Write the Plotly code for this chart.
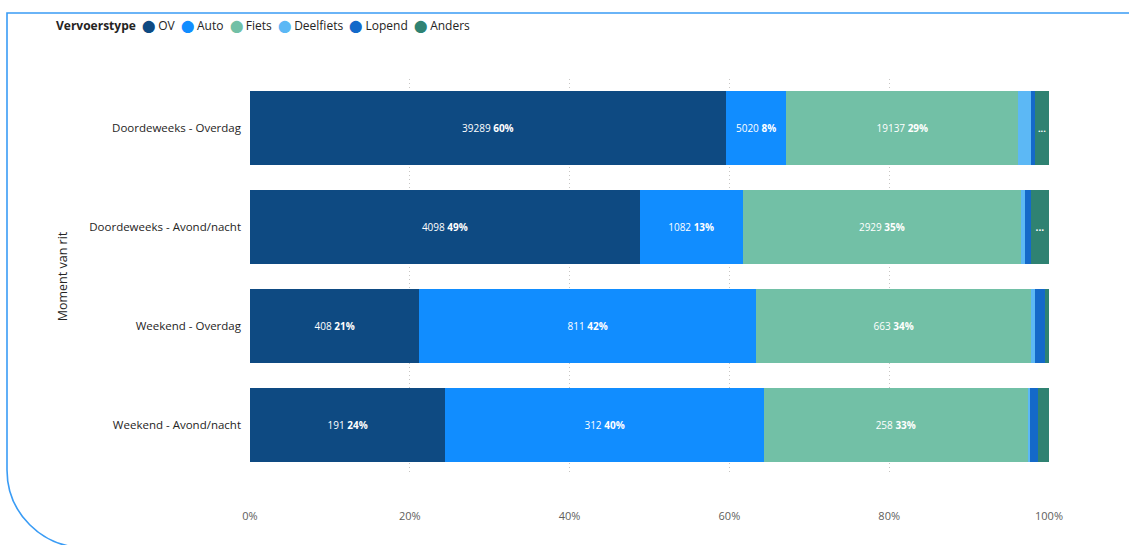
import plotly.graph_objects as go

# Trips per moment of the day, split by mode of transport
categories = [
    "Doordeweeks - Overdag",
    "Doordeweeks - Avond/nacht",
    "Weekend - Overdag",
    "Weekend - Avond/nacht",
]
modes = ["OV", "Auto", "Fiets", "Deelfiets", "Lopend", "Anders"]

ov = [39289, 4098, 408, 191]
auto = [5020, 1082, 811, 312]
fiets = [19137, 2929, 663, 258]
deelfiets = [1060, 40, 10, 2]
lopend = [330, 63, 24, 8]
anders = [1160, 190, 9, 11]

x_ticks = [0, 20, 40, 60, 80, 100]

colors = ["#0E4A82", "#118DFF", "#72C0A6", "#5CB8F5", "#1469C9", "#2F8272"]
series = [ov, auto, fiets, deelfiets, lopend, anders]

FONT = "Open Sans"
NB = "\u00a0"
totals = [sum(vals) for vals in zip(*series)]

fig = go.Figure()
for name, vals, col in zip(modes, series, colors):
    labels = []
    for v, t in zip(vals, totals):
        share = v / t
        if share >= 0.05:
            labels.append(f"{v} <b>{round(share * 100)}%</b>")
        elif share >= 0.017:
            labels.append("<b>...</b>")
        else:
            labels.append("")
    fig.add_trace(go.Bar(
        name=name,
        y=categories,
        x=vals,
        orientation="h",
        marker=dict(color=col, line=dict(width=0)),
        text=labels,
        textposition="inside",
        insidetextanchor="middle",
        textangle=0,
        textfont=dict(family=FONT, size=10, color="white"),
        showlegend=False,
    ))

fig.update_layout(
    barmode="stack",
    barnorm="percent",
    bargap=0.25,
    width=1129,
    height=545,
    margin=dict(l=250, r=80, t=79, b=71),
    paper_bgcolor="white",
    plot_bgcolor="white",
    font=dict(family=FONT, size=12, color="#252423"),
    showlegend=False,
)

fig.update_xaxes(
    range=[0, 100],
    tickvals=x_ticks,
    ticktext=[f"{t}%" for t in x_ticks],
    showgrid=True,
    gridcolor="#C8C6C4",
    griddash="1px,3px",
    gridwidth=1,
    zeroline=False,
    showline=False,
    ticks="",
    tickfont=dict(family=FONT, size=11, color="#605E5C"),
    ticklabelstandoff=34,
)
fig.update_yaxes(
    categoryorder="array",
    categoryarray=categories,
    autorange="reversed",
    showgrid=False,
    zeroline=False,
    showline=False,
    ticks="",
    ticklabelstandoff=8,
    tickfont=dict(family=FONT, size=11.5, color="#252423"),
    title=dict(text="Moment van rit", font=dict(family=FONT, size=12.5, color="#252423"), standoff=18),
)

# Legend line: title followed by a coloured dot per mode
legend_text = "<b>Vervoerstype</b>" + NB * 2 + (NB * 2).join(
    f"<span style='color:{col}'>⬤</span>{NB}{name}" for name, col in zip(modes, colors)
)
fig.add_annotation(
    xref="paper", yref="paper",
    x=-(250 - 54) / 799, y=1 + (79 - 26) / 395,
    xanchor="left", yanchor="middle",
    text=legend_text,
    showarrow=False,
    font=dict(family=FONT, size=12, color="#252423"),
)

# Card outline: top edge and left edge with rounded lower corner
def px(xp):
    return (xp - 250) / 799

def py(yp):
    return (474 - yp) / 395

r = 77.5
k = 0.5523 * r
x0, y0 = 7, 13
yc = 470
path = (
    f"M {px(1140)} {py(y0)} L {px(x0)} {py(y0)} L {px(x0)} {py(yc)} "
    f"C {px(x0)} {py(yc + k)} {px(x0 + r - k)} {py(yc + r)} {px(x0 + r)} {py(yc + r)} "
    f"L {px(400)} {py(yc + r)}"
)
fig.add_shape(
    type="path", xref="paper", yref="paper", path=path,
    line=dict(color="#3A9CF5", width=1.6), layer="above",
)

fig.write_html("out.html")
